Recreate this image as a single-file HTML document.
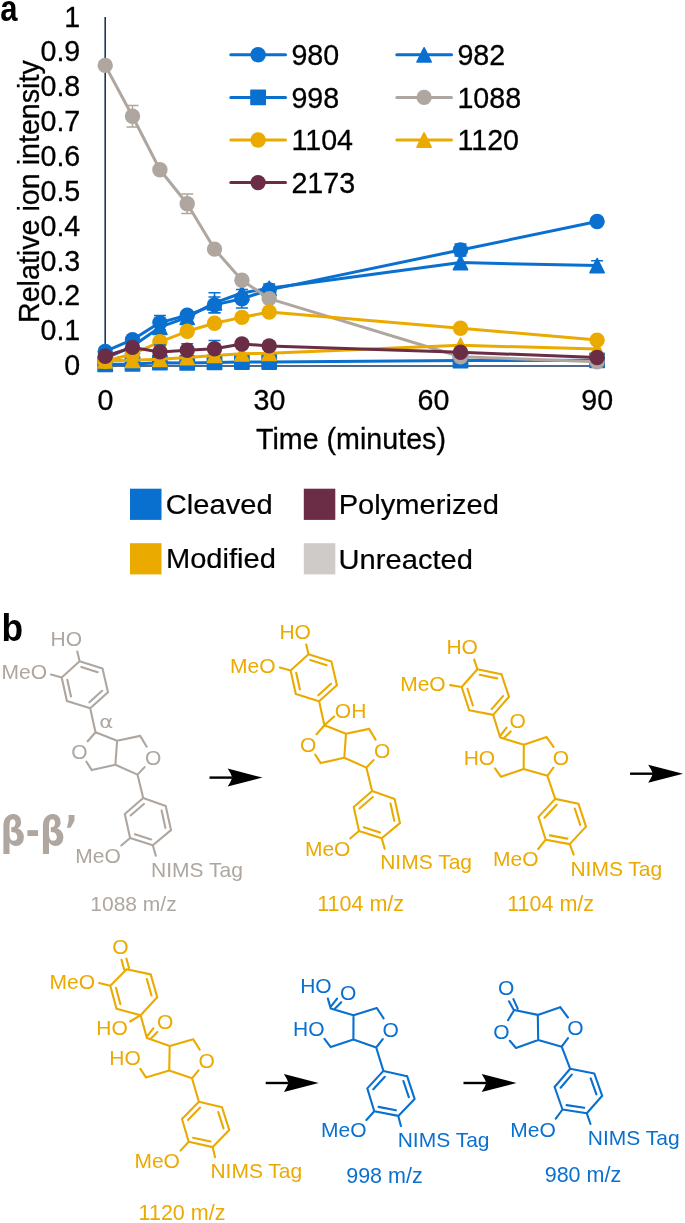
<!DOCTYPE html>
<html lang="en"><head><meta charset="utf-8"><title>Figure</title>
<style>
html,body{margin:0;padding:0;background:#fff}
body{width:685px;height:1223px;overflow:hidden}
svg{display:block;font-family:"Liberation Sans",sans-serif}
</style></head><body>
<svg width="685" height="1223" viewBox="0 0 685 1223">
<rect width="685" height="1223" fill="#fff"/>
<g id="chart">
<path d="M105.2 17V366.8" stroke="#17375E" stroke-width="1.6" fill="none"/>
<path d="M104.4 366H600" stroke="#17375E" stroke-width="1.7" fill="none"/>
<g><polyline points="105.2,351.4 132.5,339.7 159.9,322.6 187.2,315.3 214.5,304.9 241.9,298.7 269.2,289.9 460.5,250.0 597.1,221.5" fill="none" stroke="#0A70D0" stroke-width="3" stroke-linejoin="round"/>
<path d="M159.9 315.6V329.6M153.9 315.6h12M153.9 329.6h12" stroke="#0A70D0" stroke-width="1.5" fill="none"/>
<path d="M214.5 297.0V312.8M208.5 297.0h12M208.5 312.8h12" stroke="#0A70D0" stroke-width="1.5" fill="none"/>
<path d="M241.9 289.5V307.9M235.9 289.5h12M235.9 307.9h12" stroke="#0A70D0" stroke-width="1.5" fill="none"/>
<path d="M269.2 283.9V295.9M263.2 283.9h12M263.2 295.9h12" stroke="#0A70D0" stroke-width="1.5" fill="none"/>
<path d="M460.5 243.9V256.1M454.5 243.9h12M454.5 256.1h12" stroke="#0A70D0" stroke-width="1.5" fill="none"/>
<circle cx="105.2" cy="351.4" r="7.7" fill="#0A70D0"/>
<circle cx="132.5" cy="339.7" r="7.7" fill="#0A70D0"/>
<circle cx="159.9" cy="322.6" r="7.7" fill="#0A70D0"/>
<circle cx="187.2" cy="315.3" r="7.7" fill="#0A70D0"/>
<circle cx="214.5" cy="304.9" r="7.7" fill="#0A70D0"/>
<circle cx="241.9" cy="298.7" r="7.7" fill="#0A70D0"/>
<circle cx="269.2" cy="289.9" r="7.7" fill="#0A70D0"/>
<circle cx="460.5" cy="250.0" r="7.7" fill="#0A70D0"/>
<circle cx="597.1" cy="221.5" r="7.7" fill="#0A70D0"/>
</g>
<g><polyline points="105.2,358.5 132.5,346.3 159.9,327.2 187.2,317.4 214.5,302.8 241.9,293.0 269.2,288.3 460.5,262.6 597.1,265.6" fill="none" stroke="#0A70D0" stroke-width="3" stroke-linejoin="round"/>
<path d="M214.5 292.8V312.8M208.5 292.8h12M208.5 312.8h12" stroke="#0A70D0" stroke-width="1.5" fill="none"/>
<path d="M597.1 260.8V270.4M591.1 260.8h12M591.1 270.4h12" stroke="#0A70D0" stroke-width="1.5" fill="none"/>
<path d="M105.2 351.5L112.2 365.6L98.2 365.6Z" fill="#0A70D0" stroke="#0A70D0" stroke-width="1.7" stroke-linejoin="round"/>
<path d="M132.5 339.3L139.5 353.4L125.5 353.4Z" fill="#0A70D0" stroke="#0A70D0" stroke-width="1.7" stroke-linejoin="round"/>
<path d="M159.9 320.2L166.9 334.3L152.9 334.3Z" fill="#0A70D0" stroke="#0A70D0" stroke-width="1.7" stroke-linejoin="round"/>
<path d="M187.2 310.4L194.2 324.5L180.2 324.5Z" fill="#0A70D0" stroke="#0A70D0" stroke-width="1.7" stroke-linejoin="round"/>
<path d="M214.5 295.8L221.5 309.9L207.5 309.9Z" fill="#0A70D0" stroke="#0A70D0" stroke-width="1.7" stroke-linejoin="round"/>
<path d="M241.9 286.0L248.9 300.1L234.9 300.1Z" fill="#0A70D0" stroke="#0A70D0" stroke-width="1.7" stroke-linejoin="round"/>
<path d="M269.2 281.3L276.2 295.4L262.2 295.4Z" fill="#0A70D0" stroke="#0A70D0" stroke-width="1.7" stroke-linejoin="round"/>
<path d="M460.5 255.6L467.5 269.7L453.5 269.7Z" fill="#0A70D0" stroke="#0A70D0" stroke-width="1.7" stroke-linejoin="round"/>
<path d="M597.1 258.6L604.1 272.7L590.1 272.7Z" fill="#0A70D0" stroke="#0A70D0" stroke-width="1.7" stroke-linejoin="round"/>
</g>
<g><polyline points="105.2,364.3 132.5,363.9 159.9,362.7 187.2,362.9 214.5,362.4 241.9,362.0 269.2,362.0 460.5,360.6 597.1,360.3" fill="none" stroke="#0A70D0" stroke-width="3" stroke-linejoin="round"/>
<rect x="98.1" y="357.2" width="14.2" height="14.2" fill="#0A70D0" stroke="#0A70D0" stroke-width="1.6" stroke-linejoin="round"/>
<rect x="125.4" y="356.8" width="14.2" height="14.2" fill="#0A70D0" stroke="#0A70D0" stroke-width="1.6" stroke-linejoin="round"/>
<rect x="152.8" y="355.6" width="14.2" height="14.2" fill="#0A70D0" stroke="#0A70D0" stroke-width="1.6" stroke-linejoin="round"/>
<rect x="180.1" y="355.8" width="14.2" height="14.2" fill="#0A70D0" stroke="#0A70D0" stroke-width="1.6" stroke-linejoin="round"/>
<rect x="207.4" y="355.3" width="14.2" height="14.2" fill="#0A70D0" stroke="#0A70D0" stroke-width="1.6" stroke-linejoin="round"/>
<rect x="234.8" y="354.9" width="14.2" height="14.2" fill="#0A70D0" stroke="#0A70D0" stroke-width="1.6" stroke-linejoin="round"/>
<rect x="262.1" y="354.9" width="14.2" height="14.2" fill="#0A70D0" stroke="#0A70D0" stroke-width="1.6" stroke-linejoin="round"/>
<rect x="453.4" y="353.5" width="14.2" height="14.2" fill="#0A70D0" stroke="#0A70D0" stroke-width="1.6" stroke-linejoin="round"/>
<rect x="590.0" y="353.2" width="14.2" height="14.2" fill="#0A70D0" stroke="#0A70D0" stroke-width="1.6" stroke-linejoin="round"/>
</g>
<g><polyline points="105.2,65.4 132.5,116.3 159.9,169.8 187.2,203.8 214.5,249.1 241.9,280.2 269.2,298.6 460.5,356.8 597.1,361.7" fill="none" stroke="#AEA69F" stroke-width="3" stroke-linejoin="round"/>
<path d="M132.5 105.5V127.1M126.5 105.5h12M126.5 127.1h12" stroke="#AEA69F" stroke-width="1.5" fill="none"/>
<path d="M187.2 194.1V213.5M181.2 194.1h12M181.2 213.5h12" stroke="#AEA69F" stroke-width="1.5" fill="none"/>
<circle cx="105.2" cy="65.4" r="7.7" fill="#AEA69F"/>
<circle cx="132.5" cy="116.3" r="7.7" fill="#AEA69F"/>
<circle cx="159.9" cy="169.8" r="7.7" fill="#AEA69F"/>
<circle cx="187.2" cy="203.8" r="7.7" fill="#AEA69F"/>
<circle cx="214.5" cy="249.1" r="7.7" fill="#AEA69F"/>
<circle cx="241.9" cy="280.2" r="7.7" fill="#AEA69F"/>
<circle cx="269.2" cy="298.6" r="7.7" fill="#AEA69F"/>
<circle cx="460.5" cy="356.8" r="7.7" fill="#AEA69F"/>
<circle cx="597.1" cy="361.7" r="7.7" fill="#AEA69F"/>
</g>
<g><polyline points="105.2,361.3 132.5,354.0 159.9,341.8 187.2,331.3 214.5,323.3 241.9,317.4 269.2,312.0 460.5,328.2 597.1,340.1" fill="none" stroke="#EBAA00" stroke-width="3" stroke-linejoin="round"/>
<circle cx="105.2" cy="361.3" r="7.7" fill="#EBAA00"/>
<circle cx="132.5" cy="354.0" r="7.7" fill="#EBAA00"/>
<circle cx="159.9" cy="341.8" r="7.7" fill="#EBAA00"/>
<circle cx="187.2" cy="331.3" r="7.7" fill="#EBAA00"/>
<circle cx="214.5" cy="323.3" r="7.7" fill="#EBAA00"/>
<circle cx="241.9" cy="317.4" r="7.7" fill="#EBAA00"/>
<circle cx="269.2" cy="312.0" r="7.7" fill="#EBAA00"/>
<circle cx="460.5" cy="328.2" r="7.7" fill="#EBAA00"/>
<circle cx="597.1" cy="340.1" r="7.7" fill="#EBAA00"/>
</g>
<g><polyline points="105.2,360.8 132.5,360.3 159.9,359.2 187.2,357.5 214.5,355.4 241.9,353.8 269.2,353.3 460.5,345.3 597.1,349.1" fill="none" stroke="#EBAA00" stroke-width="3" stroke-linejoin="round"/>
<path d="M105.2 353.8L112.2 367.9L98.2 367.9Z" fill="#EBAA00" stroke="#EBAA00" stroke-width="1.7" stroke-linejoin="round"/>
<path d="M132.5 353.3L139.5 367.4L125.5 367.4Z" fill="#EBAA00" stroke="#EBAA00" stroke-width="1.7" stroke-linejoin="round"/>
<path d="M159.9 352.2L166.9 366.3L152.9 366.3Z" fill="#EBAA00" stroke="#EBAA00" stroke-width="1.7" stroke-linejoin="round"/>
<path d="M187.2 350.5L194.2 364.6L180.2 364.6Z" fill="#EBAA00" stroke="#EBAA00" stroke-width="1.7" stroke-linejoin="round"/>
<path d="M214.5 348.4L221.5 362.5L207.5 362.5Z" fill="#EBAA00" stroke="#EBAA00" stroke-width="1.7" stroke-linejoin="round"/>
<path d="M241.9 346.8L248.9 360.9L234.9 360.9Z" fill="#EBAA00" stroke="#EBAA00" stroke-width="1.7" stroke-linejoin="round"/>
<path d="M269.2 346.3L276.2 360.4L262.2 360.4Z" fill="#EBAA00" stroke="#EBAA00" stroke-width="1.7" stroke-linejoin="round"/>
<path d="M460.5 338.3L467.5 352.4L453.5 352.4Z" fill="#EBAA00" stroke="#EBAA00" stroke-width="1.7" stroke-linejoin="round"/>
<path d="M597.1 342.1L604.1 356.2L590.1 356.2Z" fill="#EBAA00" stroke="#EBAA00" stroke-width="1.7" stroke-linejoin="round"/>
</g>
<path d="M181.2 343.7h12M187.2 343.7v8" stroke="#0A70D0" stroke-width="1.5" fill="none"/>
<path d="M208.5 340.5h12M214.5 340.5v8" stroke="#0A70D0" stroke-width="1.5" fill="none"/>
<path d="M153.9 345h12M159.9 345v8" stroke="#0A70D0" stroke-width="1.5" fill="none"/>
<path d="M263.2 341.5h12M269.2 341.5v8" stroke="#0A70D0" stroke-width="1.5" fill="none"/>
<g><polyline points="105.2,356.3 132.5,347.4 159.9,351.9 187.2,350.3 214.5,348.8 241.9,344.0 269.2,345.9 460.5,352.3 597.1,357.5" fill="none" stroke="#6B2C45" stroke-width="3" stroke-linejoin="round"/>
<circle cx="105.2" cy="356.3" r="7.7" fill="#6B2C45"/>
<circle cx="132.5" cy="347.4" r="7.7" fill="#6B2C45"/>
<circle cx="159.9" cy="351.9" r="7.7" fill="#6B2C45"/>
<circle cx="187.2" cy="350.3" r="7.7" fill="#6B2C45"/>
<circle cx="214.5" cy="348.8" r="7.7" fill="#6B2C45"/>
<circle cx="241.9" cy="344.0" r="7.7" fill="#6B2C45"/>
<circle cx="269.2" cy="345.9" r="7.7" fill="#6B2C45"/>
<circle cx="460.5" cy="352.3" r="7.7" fill="#6B2C45"/>
<circle cx="597.1" cy="357.5" r="7.7" fill="#6B2C45"/>
</g>
</g>
<g>
<text transform="translate(80.3 375.1) scale(0.955 1)" font-size="30" fill="#000" stroke="#000" stroke-width="0.3" text-anchor="end" >0</text>
<text transform="translate(80.3 340.2) scale(0.955 1)" font-size="30" fill="#000" stroke="#000" stroke-width="0.3" text-anchor="end" >0.1</text>
<text transform="translate(80.3 305.4) scale(0.955 1)" font-size="30" fill="#000" stroke="#000" stroke-width="0.3" text-anchor="end" >0.2</text>
<text transform="translate(80.3 270.6) scale(0.955 1)" font-size="30" fill="#000" stroke="#000" stroke-width="0.3" text-anchor="end" >0.3</text>
<text transform="translate(80.3 235.7) scale(0.955 1)" font-size="30" fill="#000" stroke="#000" stroke-width="0.3" text-anchor="end" >0.4</text>
<text transform="translate(80.3 200.8) scale(0.955 1)" font-size="30" fill="#000" stroke="#000" stroke-width="0.3" text-anchor="end" >0.5</text>
<text transform="translate(80.3 166.0) scale(0.955 1)" font-size="30" fill="#000" stroke="#000" stroke-width="0.3" text-anchor="end" >0.6</text>
<text transform="translate(80.3 131.2) scale(0.955 1)" font-size="30" fill="#000" stroke="#000" stroke-width="0.3" text-anchor="end" >0.7</text>
<text transform="translate(80.3 96.3) scale(0.955 1)" font-size="30" fill="#000" stroke="#000" stroke-width="0.3" text-anchor="end" >0.8</text>
<text transform="translate(80.3 61.4) scale(0.955 1)" font-size="30" fill="#000" stroke="#000" stroke-width="0.3" text-anchor="end" >0.9</text>
<text transform="translate(80.3 26.6) scale(0.955 1)" font-size="30" fill="#000" stroke="#000" stroke-width="0.3" text-anchor="end" >1</text>
</g>
<g>
<text transform="translate(105.4 409.8) scale(0.955 1)" font-size="30" fill="#000" stroke="#000" stroke-width="0.3" text-anchor="middle" >0</text>
<text transform="translate(269.4 409.8) scale(0.955 1)" font-size="30" fill="#000" stroke="#000" stroke-width="0.3" text-anchor="middle" >30</text>
<text transform="translate(433.4 409.8) scale(0.955 1)" font-size="30" fill="#000" stroke="#000" stroke-width="0.3" text-anchor="middle" >60</text>
<text transform="translate(597.3 409.8) scale(0.955 1)" font-size="30" fill="#000" stroke="#000" stroke-width="0.3" text-anchor="middle" >90</text>
<text transform="translate(351.0 449.0) scale(0.955 1)" font-size="30" fill="#000" stroke="#000" stroke-width="0.3" text-anchor="middle" >Time (minutes)</text>
</g>
<text font-size="30" fill="#000" stroke="#000" stroke-width="0.3" transform="translate(38.9 323) rotate(-90) scale(0.955 1)">Relative ion intensity</text>
<text transform="translate(0.2 21.2) scale(0.84 1)" font-size="37" font-weight="bold">a</text>
<text transform="translate(1.5 640.6) scale(0.93 1)" font-size="38" font-weight="bold">b</text>
<g>
<path d="M230.8 54.8h54.7" stroke="#0A70D0" stroke-width="3" stroke-linecap="round" fill="none"/>
<circle cx="258.1" cy="54.8" r="7.7" fill="#0A70D0"/>
<text transform="translate(291.4 65.0) scale(0.955 1)" font-size="30" fill="#000" stroke="#000" stroke-width="0.3" text-anchor="start" >980</text>
<path d="M396.8 54.8h54.7" stroke="#0A70D0" stroke-width="3" stroke-linecap="round" fill="none"/>
<path d="M424.1 47.8L431.1 61.9L417.1 61.9Z" fill="#0A70D0" stroke="#0A70D0" stroke-width="1.7" stroke-linejoin="round"/>
<text transform="translate(457.4 65.0) scale(0.955 1)" font-size="30" fill="#000" stroke="#000" stroke-width="0.3" text-anchor="start" >982</text>
<path d="M230.8 97.4h54.7" stroke="#0A70D0" stroke-width="3" stroke-linecap="round" fill="none"/>
<rect x="251.0" y="90.3" width="14.2" height="14.2" fill="#0A70D0" stroke="#0A70D0" stroke-width="1.6" stroke-linejoin="round"/>
<text transform="translate(291.4 107.6) scale(0.955 1)" font-size="30" fill="#000" stroke="#000" stroke-width="0.3" text-anchor="start" >998</text>
<path d="M396.8 97.4h54.7" stroke="#AEA69F" stroke-width="3" stroke-linecap="round" fill="none"/>
<circle cx="424.1" cy="97.4" r="7.7" fill="#AEA69F"/>
<text transform="translate(457.4 107.6) scale(0.955 1)" font-size="30" fill="#000" stroke="#000" stroke-width="0.3" text-anchor="start" >1088</text>
<path d="M230.8 140.0h54.7" stroke="#EBAA00" stroke-width="3" stroke-linecap="round" fill="none"/>
<circle cx="258.1" cy="140.0" r="7.7" fill="#EBAA00"/>
<text transform="translate(291.4 150.2) scale(0.955 1)" font-size="30" fill="#000" stroke="#000" stroke-width="0.3" text-anchor="start" >1104</text>
<path d="M396.8 140.0h54.7" stroke="#EBAA00" stroke-width="3" stroke-linecap="round" fill="none"/>
<path d="M424.1 133.0L431.1 147.1L417.1 147.1Z" fill="#EBAA00" stroke="#EBAA00" stroke-width="1.7" stroke-linejoin="round"/>
<text transform="translate(457.4 150.2) scale(0.955 1)" font-size="30" fill="#000" stroke="#000" stroke-width="0.3" text-anchor="start" >1120</text>
<path d="M230.8 182.6h54.7" stroke="#6B2C45" stroke-width="3" stroke-linecap="round" fill="none"/>
<circle cx="258.1" cy="182.6" r="7.7" fill="#6B2C45"/>
<text transform="translate(291.4 192.8) scale(0.955 1)" font-size="30" fill="#000" stroke="#000" stroke-width="0.3" text-anchor="start" >2173</text>
</g>
<g>
<rect x="130" y="488.7" width="31.5" height="31.2" fill="#0A70D0"/>
<text transform="translate(165.8 514.2) scale(1.055 1)" font-size="27.6" fill="#000" stroke="#000" stroke-width="0.2">Cleaved</text>
<rect x="303.8" y="488.7" width="31.5" height="31.2" fill="#6B2C45"/>
<text transform="translate(338.7 514.0) scale(1.055 1)" font-size="27.6" fill="#000" stroke="#000" stroke-width="0.2">Polymerized</text>
<rect x="130" y="543.2" width="31.5" height="31.2" fill="#EBAA00"/>
<text transform="translate(165.9 568.3) scale(1.055 1)" font-size="27.6" fill="#000" stroke="#000" stroke-width="0.2">Modified</text>
<rect x="303.8" y="543.2" width="31.5" height="31.2" fill="#CFCBC8"/>
<text transform="translate(338.6 568.6) scale(1.055 1)" font-size="27.6" fill="#000" stroke="#000" stroke-width="0.2">Unreacted</text>
</g>
<g stroke="#AEA69F" fill="none" stroke-width="2.1" stroke-linecap="round" stroke-linejoin="round">
<path d="M79.6 661.2L102.5 668.5M102.5 668.5L108.0 692.2M108.0 692.2L90.2 708.3M90.2 708.3L66.9 700.9M66.9 700.9L61.7 677.5M61.7 677.5L79.6 661.2M81.3 667.0L97.7 672.2M102.1 690.8L89.4 702.3M71.0 696.5L67.3 679.7M79.6 661.2L77.3 651.5M61.7 677.5L51.0 674.6M90.2 708.3L95.5 732.2M95.5 732.2L117.1 740.8M117.1 740.8L140.2 735.9M117.1 740.8L115.4 764.7M115.4 764.7L137.5 774.6M115.4 764.7L91.8 770.1M140.2 735.9L146.7 746.7M137.5 774.6L144.6 767.1M95.5 732.2L87.7 741.3M91.8 770.1L86.4 761.7M137.5 774.6L143.2 798.0M143.2 798.0L165.7 806.1M165.7 806.1L171.0 830.1M171.0 830.1L152.8 845.3M152.8 845.3L130.1 838.0M130.1 838.0L124.8 814.0M124.8 814.0L143.2 798.0M161.6 810.5L165.4 827.9M151.1 839.5L134.9 834.3M130.6 815.5L143.9 804.0M130.1 838.0L121.3 845.5M152.8 845.3L155.8 855.8"/></g>
<text x="50.5" y="645.8" font-size="21" fill="#AEA69F" >HO</text>
<text x="1.5" y="678.8" font-size="21" fill="#AEA69F" >MeO</text>
<text x="71.2" y="758.5" font-size="21" fill="#AEA69F" >O</text>
<text x="145.1" y="765.2" font-size="21" fill="#AEA69F" >O</text>
<text x="75.3" y="862.9" font-size="21" fill="#AEA69F" >MeO</text>
<text x="151.0" y="877.1" font-size="21" fill="#AEA69F" >NIMS Tag</text>
<text transform="translate(99.2 728.2) scale(1.25 1)" font-size="17" fill="#AEA69F" font-family="'DejaVu Sans',sans-serif">α</text>
<text x="90.3" y="910.7" font-size="21" fill="#AEA69F" >1088 m/z</text>
<text transform="translate(0.5 844.7) scale(0.968 1)" font-size="40" font-weight="bold" fill="#AEA69F" font-family="'DejaVu Sans Condensed','DejaVu Sans',sans-serif">β-β’</text>
<g stroke="#EBAA00" fill="none" stroke-width="2.1" stroke-linecap="round" stroke-linejoin="round">
<path d="M308.5 654.2L331.4 661.5M331.4 661.5L336.9 685.2M336.9 685.2L319.1 701.3M319.1 701.3L295.8 693.9M295.8 693.9L290.6 670.5M290.6 670.5L308.5 654.2M310.2 660.0L326.6 665.2M331.0 683.8L318.3 695.3M299.9 689.5L296.2 672.7M308.5 654.2L306.2 644.5M290.6 670.5L279.9 667.6M319.1 701.3L324.4 725.2M324.4 725.2L346.0 733.8M346.0 733.8L369.1 728.9M346.0 733.8L344.3 757.7M344.3 757.7L366.4 767.6M344.3 757.7L320.7 763.1M369.1 728.9L375.6 739.7M366.4 767.6L373.5 760.1M324.4 725.2L316.6 734.3M320.7 763.1L315.3 754.7M324.4 725.2L334.1 716.5M366.4 767.6L372.1 791.0M372.1 791.0L394.6 799.1M394.6 799.1L399.9 823.1M399.9 823.1L381.7 838.3M381.7 838.3L359.0 831.0M359.0 831.0L353.7 807.0M353.7 807.0L372.1 791.0M390.5 803.5L394.3 820.9M380.0 832.5L363.8 827.3M359.5 808.5L372.8 797.0M359.0 831.0L350.2 838.5M381.7 838.3L384.7 848.8"/></g>
<text x="279.4" y="639.3" font-size="21" fill="#EBAA00" >HO</text>
<text x="230.1" y="673.3" font-size="21" fill="#EBAA00" >MeO</text>
<text x="300.1" y="751.5" font-size="21" fill="#EBAA00" >O</text>
<text x="374.0" y="758.2" font-size="21" fill="#EBAA00" >O</text>
<text x="304.9" y="855.8" font-size="21" fill="#EBAA00" >MeO</text>
<text x="380.2" y="869.4" font-size="21" fill="#EBAA00" >NIMS Tag</text>
<text x="334.8" y="717.8" font-size="21" fill="#EBAA00" >OH</text>
<text x="317.2" y="911.0" font-size="21.5" fill="#EBAA00" >1104 m/z</text>
<g stroke="#EBAA00" fill="none" stroke-width="2.1" stroke-linecap="round" stroke-linejoin="round">
<path d="M500.2 737.5L523.8 744.8M523.8 744.8L546.6 737.1M523.8 744.8L523.7 768.9M523.7 768.9L547.4 775.8M523.7 768.9L501.0 776.8M546.6 737.1L553.5 746.8M547.4 775.8L553.4 767.6M501.0 776.8L495.0 768.4M547.4 775.8L555.2 798.9M555.2 798.9L578.5 803.8M578.5 803.8L586.0 826.6M586.0 826.6L569.7 844.1M569.7 844.1L545.7 839.7M545.7 839.7L538.5 816.9M538.5 816.9L555.2 798.9M574.8 808.6L580.2 824.9M567.3 838.6L549.9 835.4M544.5 817.8L556.6 804.8M545.7 839.7L538.2 849.0M569.7 844.1L573.7 854.6M500.5 735.5L506.6 727.7M504.6 737.6L510.7 731.4M477.4 669.2L501.4 674.2M501.4 674.2L509.0 696.8M509.0 696.8L493.2 714.9M493.2 714.9L469.2 710.3M469.2 710.3L461.7 687.0M461.7 687.0L477.4 669.2M479.7 674.8L497.1 678.4M503.0 696.1L491.7 709.1M472.9 705.5L467.5 688.7M477.4 669.2L474.2 659.7M461.7 687.0L450.2 685.1M493.2 714.9L500.2 737.5"/></g>
<text x="552.7" y="764.8" font-size="21" fill="#EBAA00" >O</text>
<text x="509.5" y="728.2" font-size="21" fill="#EBAA00" >O</text>
<text x="463.7" y="765.4" font-size="21" fill="#EBAA00" >HO</text>
<text x="493.0" y="866.1" font-size="21" fill="#EBAA00" >MeO</text>
<text x="570.4" y="875.7" font-size="21" fill="#EBAA00" >NIMS Tag</text>
<text x="446.4" y="654.0" font-size="21" fill="#EBAA00" >HO</text>
<text x="400.2" y="690.9" font-size="21" fill="#EBAA00" >MeO</text>
<text x="507.2" y="910.7" font-size="21.5" fill="#EBAA00" >1104 m/z</text>
<g stroke="#EBAA00" fill="none" stroke-width="2.1" stroke-linecap="round" stroke-linejoin="round">
<path d="M146.9 1038.1L169.7 1046.0M169.7 1046.0L193.2 1039.2M169.7 1046.0L169.2 1070.6M169.2 1070.6L192.0 1078.3M169.2 1070.6L146.0 1077.4M193.2 1039.2L199.8 1049.7M192.0 1078.3L198.5 1070.4M146.0 1077.4L140.3 1068.8M192.0 1078.3L198.9 1101.7M198.9 1101.7L222.0 1107.3M222.0 1107.3L229.3 1130.1M229.3 1130.1L212.7 1147.1M212.7 1147.1L188.7 1141.8M188.7 1141.8L182.0 1119.0M182.0 1119.0L198.9 1101.7M218.3 1112.1L223.5 1128.4M210.5 1141.5L193.1 1137.7M188.0 1120.1L200.1 1107.6M188.7 1141.8L180.5 1150.6M212.7 1147.1L215.0 1157.2M147.2 1036.1L153.3 1028.3M151.3 1038.2L157.4 1032.0M126.7 969.2L150.7 974.4M150.7 974.4L157.2 997.3M157.2 997.3L140.6 1015.2M140.6 1015.2L116.5 1008.8M116.5 1008.8L110.3 985.7M110.3 985.7L126.7 969.2M146.8 979.0L151.5 995.4M120.4 1004.2L116.0 987.7M110.3 985.7L99.1 983.0M140.6 1015.2L146.9 1038.1M140.6 1015.2L130.1 1021.5M129.0 968.0L126.4 958.5M124.1 969.4L121.5 959.8"/></g>
<text x="198.4" y="1068.0" font-size="21" fill="#EBAA00" >O</text>
<text x="157.0" y="1029.2" font-size="21" fill="#EBAA00" >O</text>
<text x="112.3" y="954.3" font-size="21" fill="#EBAA00" >O</text>
<text x="109.3" y="1065.1" font-size="21" fill="#EBAA00" >HO</text>
<text x="134.4" y="1167.9" font-size="21" fill="#EBAA00" >MeO</text>
<text x="210.4" y="1178.0" font-size="21" fill="#EBAA00" >NIMS Tag</text>
<text x="49.5" y="989.2" font-size="21" fill="#EBAA00" >MeO</text>
<text x="96.3" y="1035.3" font-size="21" fill="#EBAA00" >HO</text>
<text x="138.6" y="1220.4" font-size="21.5" fill="#EBAA00" >1120 m/z</text>
<g stroke="#0A70D0" fill="none" stroke-width="2.1" stroke-linecap="round" stroke-linejoin="round">
<path d="M330.7 1008.4L353.5 1015.3M353.5 1015.3L376.8 1008.0M353.5 1015.3L353.4 1039.6M353.4 1039.6L376.2 1047.5M353.4 1039.6L330.7 1047.1M376.8 1008.0L383.6 1018.3M376.2 1047.5L382.8 1039.1M330.7 1047.1L324.5 1038.9M376.2 1047.5L383.4 1070.9M383.4 1070.9L407.1 1076.2M407.1 1076.2L414.6 1098.9M414.6 1098.9L398.3 1115.9M398.3 1115.9L374.3 1111.2M374.3 1111.2L367.3 1088.4M367.3 1088.4L383.4 1070.9M403.4 1081.0L408.8 1097.2M395.9 1110.3L378.6 1106.9M373.3 1089.3L384.8 1076.8M374.3 1111.2L366.4 1120.0M398.3 1115.9L400.9 1126.1M331.0 1006.4L337.1 998.6M335.1 1008.5L341.2 1002.3M330.7 1008.4L327.9 998.6"/></g>
<text x="382.5" y="1036.5" font-size="21" fill="#0A70D0" >O</text>
<text x="340.0" y="999.8" font-size="21" fill="#0A70D0" >O</text>
<text x="293.0" y="1035.5" font-size="21" fill="#0A70D0" >HO</text>
<text x="321.0" y="1137.3" font-size="21" fill="#0A70D0" >MeO</text>
<text x="397.7" y="1147.2" font-size="21" fill="#0A70D0" >NIMS Tag</text>
<text x="300.2" y="993.4" font-size="21" fill="#0A70D0" >HO</text>
<text x="346.2" y="1183.0" font-size="21.5" fill="#0A70D0" >998 m/z</text>
<g stroke="#0A70D0" fill="none" stroke-width="2.1" stroke-linecap="round" stroke-linejoin="round">
<path d="M514.2 1010.0L537.8 1014.9M537.8 1014.9L560.2 1007.2M537.8 1014.9L538.2 1040.0M538.2 1040.0L561.7 1046.7M538.2 1040.0L516.0 1048.0M560.2 1007.2L567.9 1017.5M561.7 1046.7L568.0 1038.1M514.2 1010.0L508.0 1020.2M516.0 1048.0L509.8 1040.8M513.4 1009.3L509.0 1001.3M517.7 1008.6L513.4 999.1M561.7 1046.7L570.2 1068.8M570.2 1068.8L594.3 1073.5M594.3 1073.5L602.2 1095.8M602.2 1095.8L586.8 1113.3M586.8 1113.3L562.5 1109.5M562.5 1109.5L554.6 1087.0M554.6 1087.0L570.2 1068.8M590.7 1078.4L596.4 1094.3M584.2 1107.8L566.6 1105.1M560.6 1087.7L571.8 1074.6M562.5 1109.5L555.8 1118.7M586.8 1113.3L590.5 1124.0"/></g>
<text x="493.2" y="1038.6" font-size="21" fill="#0A70D0" >O</text>
<text x="567.3" y="1035.3" font-size="21" fill="#0A70D0" >O</text>
<text x="498.0" y="995.2" font-size="21" fill="#0A70D0" >O</text>
<text x="510.3" y="1136.6" font-size="21" fill="#0A70D0" >MeO</text>
<text x="587.8" y="1144.6" font-size="21" fill="#0A70D0" >NIMS Tag</text>
<text x="544.7" y="1181.7" font-size="21.5" fill="#0A70D0" >980 m/z</text>
<path d="M209.5 777.6H232.5" stroke="#000" stroke-width="2.4" fill="none"/>
<path d="M262.5 777.6L227.7 768.6Q231.0 773.6 232.3 777.6Q231.0 781.6 227.7 786.6Z" fill="#000"/>
<path d="M630 773.7H653" stroke="#000" stroke-width="2.4" fill="none"/>
<path d="M683 773.7L648.2 764.7Q651.5 769.7 652.8 773.7Q651.5 777.7 648.2 782.7Z" fill="#000"/>
<path d="M265.7 1083.0H288.7" stroke="#000" stroke-width="2.4" fill="none"/>
<path d="M318.7 1083.0L283.9 1074.0Q287.2 1079.0 288.5 1083.0Q287.2 1087.0 283.9 1092.0Z" fill="#000"/>
<path d="M463.5 1083.0H486.5" stroke="#000" stroke-width="2.4" fill="none"/>
<path d="M516.5 1083.0L481.7 1074.0Q485.0 1079.0 486.3 1083.0Q485.0 1087.0 481.7 1092.0Z" fill="#000"/>
</svg>
</body></html>
